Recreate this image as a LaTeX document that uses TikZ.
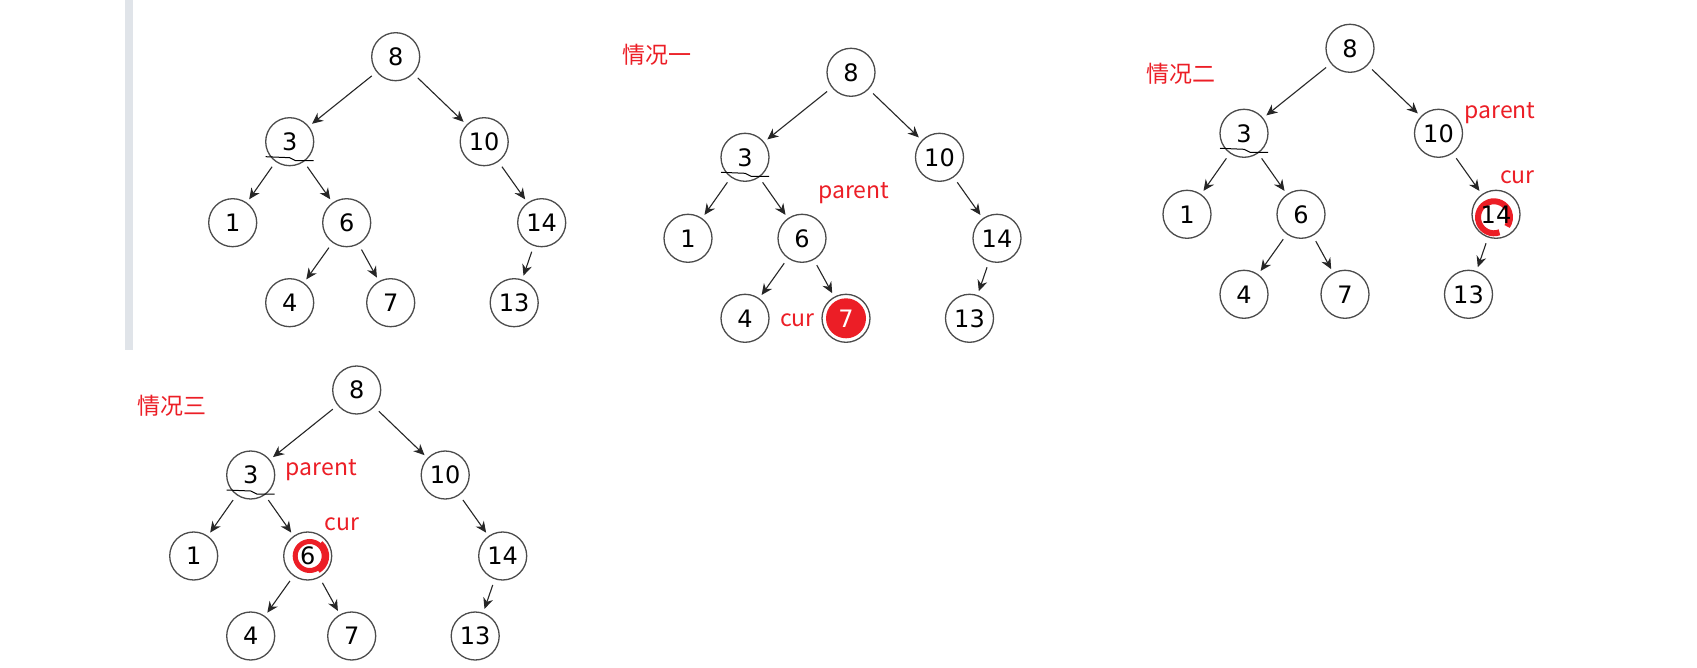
\documentclass[tikz,border=0pt]{standalone}
\usepackage{fontspec}
\setmainfont{DejaVu Sans}
\newfontfamily\cjk{Noto Sans CJK SC}
\usetikzlibrary{arrows.meta}
\definecolor{curred}{RGB}{236,30,38}
\definecolor{barcol}{RGB}{224,228,233}
\pgfdeclarelayer{background}
\pgfsetlayers{background,main}
\tikzset {
  >=Stealth,
  bstnode/.style={circle,draw=black!70,line width=1.3pt,minimum size=48pt,
    inner sep=0pt,font=\fontsize{24}{24}\selectfont},
  bstedge/.style={-{Stealth[length=11pt,width=10pt]},draw=black!85,
    line width=1.1pt,shorten <=6pt,shorten >=4pt},
  caselbl/.style={anchor=west,text=curred,inner sep=0pt,
    font=\cjk\fontsize{23}{23}\selectfont},
  ptrlbl/.style={anchor=base west,text=curred,inner sep=0pt,
    font=\cjk\fontsize{23}{23}\selectfont},
  b-seven/.style={text=white},
}

% one search tree, root at (#2,#3), node names start with #1
\newcommand{\bstree}[3]{%
  \begin{scope}[shift={(#2,#3)}]
    \node[bstnode] (#1-8)  at (0,0)      {8};
    \node[bstnode] (#1-3)  at (-106,85)  {3};
    \node[bstnode] (#1-10) at (88.5,85)  {10};
    \node[bstnode] (#1-1)  at (-163,166) {1};
    \node[bstnode] (#1-6)  at (-49,166)  {6};
    \node[bstnode] (#1-14) at (146,166)  {14};
    \node[bstnode] (#1-4)  at (-106,246) {4};
    \node[bstnode,#1-seven/.try] (#1-7) at (-5,246) {7};
    \node[bstnode] (#1-13) at (118.5,246) {13};
    \foreach \p/\c in {8/3,8/10,3/1,3/6,6/4,6/7,10/14,14/13}
      \draw[bstedge] (#1-\p) -- (#1-\c);
    % pen stroke under 3
    \draw[line width=1pt] ([shift={(-24,15)}]#1-3.center)
      -- ([shift={(0,16)}]#1-3.center) -- ([shift={(6,19)}]#1-3.center)
      -- ([shift={(24,19)}]#1-3.center);
  \end{scope}}

\begin{document}
\begin{tikzpicture}[x=1pt,y=-1pt]
  \useasboundingbox (0,0) rectangle (1697,668);

  \bstree{a}{395.7}{56.7}
  \bstree{b}{851}{72.3}
  \bstree{c}{1350}{48.3}
  \bstree{d}{356.7}{390}

  \node[caselbl] (b-case) at (622.7,55) {情况一};
  \node[ptrlbl] (b-parent) at (818,198.3) {parent};
  \node[ptrlbl] (b-cur) at (780,326.7) {cur};

  \node[caselbl] (c-case) at (1146,74) {情况二};
  \node[ptrlbl] (c-parent) at (1464.3,118.3) {parent};
  \node[ptrlbl] (c-cur) at (1500,183.3) {cur};

  \node[caselbl] (d-case) at (137.7,405.7) {情况三};
  \node[ptrlbl] (d-parent) at (285.7,475.7) {parent};
  \node[ptrlbl] (d-cur) at (324.3,530) {cur};

  \begin{pgfonlayer}{background}
    \fill[white] (0,0) rectangle (1697,668);
    \fill[barcol] (125,0) rectangle (133,350);
    % red marks on cur
    \fill[curred] (b-7) circle (20);
    \draw[curred,line width=6pt] ([shift={(-2,3)}]c-14.center) ++(70:16)
      arc[start angle=70,end angle=395,radius=16];
    \draw[curred,line width=5pt] ([shift={(2,0)}]d-6.center) circle (14.5);
    \draw[curred,line width=4pt] ([shift={(2,0)}]d-6.center) ++(-50:17.5)
      arc[start angle=-50,end angle=60,radius=17.5];
  \end{pgfonlayer}
\end{tikzpicture}
\end{document}
